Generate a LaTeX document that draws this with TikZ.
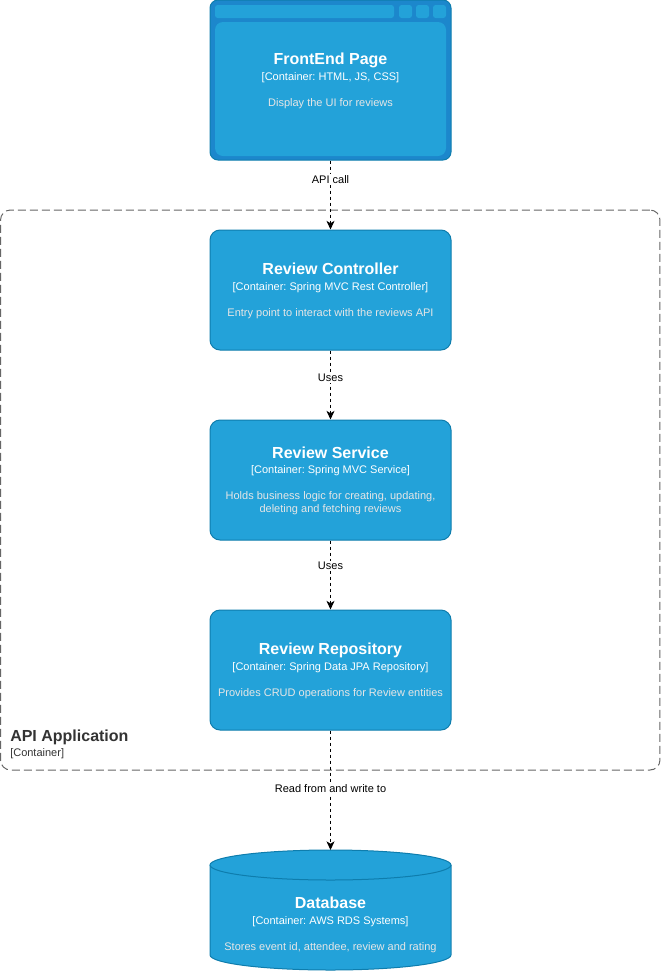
\documentclass[tikz,border=0pt]{standalone}
\usepackage{fontspec}
\setmainfont{Liberation Sans}
\usetikzlibrary{arrows.meta}
\definecolor{ctfill}{HTML}{23A2D9}
\definecolor{ctline}{HTML}{0E7DAD}
\definecolor{webfill}{HTML}{1C87CC}
\definecolor{desctext}{HTML}{E6E6E6}
\definecolor{bndline}{HTML}{666666}
\definecolor{bndtext}{HTML}{333333}
\frenchspacing
\newcommand{\cttitle}[2]{%
  {\color{white}\fontsize{12}{14}\selectfont\bfseries #1}\\[2pt]
  {\color{white}#2}\\[9.75pt]}
\tikzset{
  ctbox/.style={draw=ctline,fill=ctfill,line width=.75pt,rounded corners=7.5pt,
    minimum width=180.75pt,minimum height=90pt,align=center,text=desctext,
    font=\fontsize{8.25}{9.75}\selectfont},
  cttext/.style={align=center,text=desctext,font=\fontsize{8.25}{9.75}\selectfont},
  webbox/.style={draw=ctline,fill=webfill,line width=.75pt,rounded corners=6pt,
    minimum width=180.75pt,minimum height=120pt},
  rel/.style={draw=black,line width=.75pt,dash pattern=on 2.25pt off 2.25pt,
    -{Stealth[length=6.5pt,width=6pt,inset=1.8pt]}},
  rellbl/.style={fill=white,inner sep=1pt,text=black,font=\fontsize{8.25}{9.75}\selectfont},
  boundary/.style={draw=bndline,line width=.75pt,dash pattern=on 6pt off 3pt,
    rounded corners=7.5pt,minimum width=494.6pt,minimum height=420pt}
}

\begin{document}
\begin{tikzpicture}[x=.75pt,y=-.75pt]
  \useasboundingbox (0,0) rectangle (661,971);

  % system boundary
  \node[boundary] (apiapp) at (330.25,490) {};
  \node[anchor=base west,inner sep=0pt,text=bndtext,font=\fontsize{12}{14}\selectfont\bfseries]
    (apititle) at (10,741.5) {API Application};
  \node[anchor=base west,inner sep=0pt,text=bndtext,font=\fontsize{8.25}{9.75}\selectfont]
    (apitype) at (10,756) {[Container]};

  % frontend (browser window)
  \node[webbox] (fe) at (330.5,80) {};
  \fill[ctfill,rounded corners=2pt] (215,5) rectangle (394,18);
  \foreach \bx in {399,416,433}
    \fill[ctfill,rounded corners=2pt] (\bx,5) rectangle ++(13,13);
  \fill[ctfill,rounded corners=6pt] (215,22) rectangle (446,156);
  \node[cttext] (fetext) at (330.5,81)
    {\cttitle{FrontEnd Page}{[Container: HTML, JS, CSS]}Display the UI for reviews};

  % containers
  \node[ctbox] (ctrl) at (330.5,290) {};
  \node[cttext] (ctrltext) at (330.5,291)
    {\cttitle{Review Controller}{[Container: Spring MVC Rest Controller]}Entry point to interact with the reviews API};
  \node[ctbox] (svc) at (330.5,480) {};
  \node[cttext] (svctext) at (330.5,481)
    {\cttitle{Review Service}{[Container: Spring MVC Service]}Holds business logic for creating, updating,\\deleting and fetching reviews};
  \node[ctbox] (repo) at (330.5,670) {};
  \node[cttext] (repotext) at (330.5,671)
    {\cttitle{Review Repository}{[Container: Spring Data JPA Repository]}Provides CRUD operations for Review entities};

  % database cylinder
  \fill[ctfill] (210,865) rectangle (451,955);
  \fill[ctfill] (330.5,955) ellipse[x radius=90.375pt,y radius=11.25pt];
  \draw[ctline,line width=.75pt] (210,865) -- (210,955)
    arc[start angle=180,end angle=360,x radius=90.375pt,y radius=11.25pt] -- (451,865);
  \filldraw[fill=ctfill,draw=ctline,line width=.75pt] (330.5,865) ellipse[x radius=90.375pt,y radius=11.25pt];
  \coordinate (dbtop) at (330.5,850);
  \node[cttext] (db) at (330.5,924.5)
    {\cttitle{Database}{[Container: AWS RDS Systems]}Stores event id, attendee, review and rating};

  % relations
  \draw[rel] (fe) -- (ctrl) node[rellbl,pos=.27] {API call};
  \draw[rel] (ctrl) -- (svc) node[rellbl,pos=.39] {Uses};
  \draw[rel] (svc) -- (repo) node[rellbl,pos=.37] {Uses};
  \draw[rel] (repo) -- (dbtop) node[rellbl,pos=.49] {Read from and write to};
\end{tikzpicture}
\end{document}
